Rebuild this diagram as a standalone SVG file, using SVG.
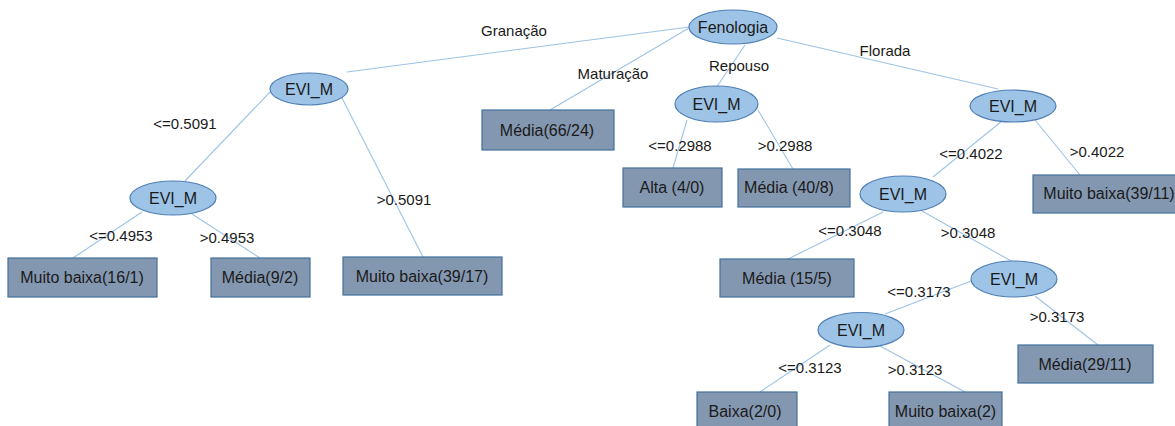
<svg xmlns="http://www.w3.org/2000/svg" width="1175" height="426" viewBox="0 0 1175 426">
<style>
.e{fill:#9dc3e6;stroke:#4f7fb5;stroke-width:1.2}
.r{fill:#8497b0;stroke:#41719c;stroke-width:1.2}
.t{font-family:"Liberation Sans",Arial,sans-serif;font-size:16px;fill:#1a1a1a;text-anchor:middle}
.l{font-family:"Liberation Sans",Arial,sans-serif;font-size:15px;fill:#1a1a1a;text-anchor:middle}
.c line{stroke:#9dc3e6;stroke-width:1.1}
</style>
<rect width="1175" height="426" fill="#ffffff"/>
<g class="c" id="connectors">
<line x1="689" y1="27" x2="347" y2="72"/>
<line x1="689" y1="28" x2="550" y2="110"/>
<line x1="745" y1="45" x2="716" y2="88"/>
<line x1="777" y1="38" x2="998" y2="89"/>
<line x1="270" y1="92" x2="185" y2="181"/>
<line x1="342" y1="98" x2="423" y2="257"/>
<line x1="142" y1="212" x2="73" y2="258"/>
<line x1="192" y1="214" x2="260" y2="258"/>
<line x1="687" y1="120" x2="673" y2="168"/>
<line x1="758" y1="110" x2="793" y2="169"/>
<line x1="1002" y1="121" x2="933" y2="177"/>
<line x1="1035" y1="120" x2="1080" y2="175"/>
<line x1="883" y1="212" x2="788" y2="259"/>
<line x1="922" y1="211" x2="1013" y2="262"/>
<line x1="971" y1="281" x2="885" y2="314"/>
<line x1="1035" y1="296" x2="1098" y2="345"/>
<line x1="830" y1="345" x2="760" y2="392"/>
<line x1="880" y1="346" x2="965" y2="392"/>
</g>
<g id="edge-labels">
<text class="l" x="514" y="36">Granação</text>
<text class="l" x="613" y="79">Maturação</text>
<text class="l" x="739" y="71">Repouso</text>
<text class="l" x="885" y="56">Florada</text>
<text class="l" x="185" y="129">&lt;=0.5091</text>
<text class="l" x="404" y="205">&gt;0.5091</text>
<text class="l" x="121" y="241">&lt;=0.4953</text>
<text class="l" x="227" y="243">&gt;0.4953</text>
<text class="l" x="680" y="151">&lt;=0.2988</text>
<text class="l" x="785" y="151">&gt;0.2988</text>
<text class="l" x="971" y="159">&lt;=0.4022</text>
<text class="l" x="1097" y="157">&gt;0.4022</text>
<text class="l" x="850" y="236">&lt;=0.3048</text>
<text class="l" x="968" y="238">&gt;0.3048</text>
<text class="l" x="919" y="297">&lt;=0.3173</text>
<text class="l" x="1057" y="322">&gt;0.3173</text>
<text class="l" x="810" y="373">&lt;=0.3123</text>
<text class="l" x="915" y="375">&gt;0.3123</text>
</g>
<g id="n-fenologia"><ellipse class="e" cx="733" cy="27" rx="44" ry="17"/><text class="t" x="733" y="33">Fenologia</text></g>
<g id="n-evi-granacao"><ellipse class="e" cx="309" cy="89" rx="39" ry="16"/><text class="t" x="309" y="95">EVI_M</text></g>
<g id="n-evi-0509"><ellipse class="e" cx="173" cy="198" rx="43" ry="17"/><text class="t" x="173" y="204">EVI_M</text></g>
<g id="n-muito-baixa-16-1"><rect class="r" x="8" y="258" width="149" height="39"/><text class="t" x="82" y="283">Muito baixa(16/1)</text></g>
<g id="n-media-9-2"><rect class="r" x="211" y="258" width="99" height="39"/><text class="t" x="260" y="283">Média(9/2)</text></g>
<g id="n-muito-baixa-39-17"><rect class="r" x="343" y="257" width="159" height="38"/><text class="t" x="422" y="282">Muito baixa(39/17)</text></g>
<g id="n-media-66-24"><rect class="r" x="482" y="110" width="132" height="40"/><text class="t" x="547" y="136">Média(66/24)</text></g>
<g id="n-evi-repouso"><ellipse class="e" cx="716.5" cy="104" rx="41.5" ry="18"/><text class="t" x="716.5" y="110">EVI_M</text></g>
<g id="n-alta-4-0"><rect class="r" x="623" y="168" width="99" height="39"/><text class="t" x="672" y="193">Alta (4/0)</text></g>
<g id="n-media-40-8"><rect class="r" x="738" y="169" width="112" height="38"/><text class="t" x="789" y="193">Média (40/8)</text></g>
<g id="n-evi-florada"><ellipse class="e" cx="1013" cy="106" rx="43" ry="16"/><text class="t" x="1013" y="112">EVI_M</text></g>
<g id="n-muito-baixa-39-11"><rect class="r" x="1033" y="175" width="150" height="38"/><text class="t" x="1109" y="199">Muito baixa(39/11)</text></g>
<g id="n-evi-0402"><ellipse class="e" cx="903" cy="194" rx="43" ry="18"/><text class="t" x="903" y="200">EVI_M</text></g>
<g id="n-media-15-5"><rect class="r" x="720" y="259" width="134" height="38"/><text class="t" x="787" y="284">Média (15/5)</text></g>
<g id="n-evi-0304"><ellipse class="e" cx="1014" cy="279" rx="43" ry="18"/><text class="t" x="1014" y="285">EVI_M</text></g>
<g id="n-media-29-11"><rect class="r" x="1018" y="345" width="135" height="38"/><text class="t" x="1085" y="370">Média(29/11)</text></g>
<g id="n-evi-0317"><ellipse class="e" cx="861" cy="330" rx="43" ry="17.5"/><text class="t" x="861" y="336">EVI_M</text></g>
<g id="n-baixa-2-0"><rect class="r" x="697" y="392" width="100" height="38"/><text class="t" x="745" y="417">Baixa(2/0)</text></g>
<g id="n-muito-baixa-2"><rect class="r" x="889" y="392" width="113" height="38"/><text class="t" x="945.5" y="417">Muito baixa(2)</text></g>
</svg>
